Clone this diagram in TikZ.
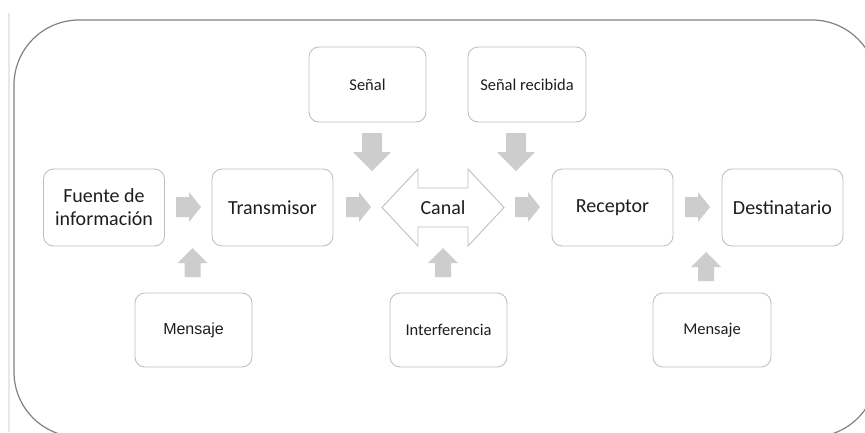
\documentclass[tikz,border=0pt]{standalone}
\usepackage{fontspec}
\setmainfont{Carlito}
\newfontfamily\arialfont{Liberation Sans}
\definecolor{arrowgray}{RGB}{205,205,205}
\definecolor{boxline}{RGB}{192,192,192}
\definecolor{outerline}{RGB}{130,130,130}
\definecolor{txt}{RGB}{30,30,30}
\tikzset{
  box/.style={draw=boxline, line width=0.9pt, rounded corners=10pt, fill=white,
    minimum width=121pt, minimum height=77pt, inner sep=0pt, text=txt,
    font=\fontsize{20}{23}\selectfont, align=center},
  smallbox/.style={box, minimum width=117pt, minimum height=74pt,
    font=\fontsize{16.5}{19}\selectfont},
  rarrow/.pic={\fill[arrowgray] (0,-10) -- (13,-10) -- (13,-15) -- (25,0) -- (13,15) -- (13,10) -- (0,10) -- cycle;},
  darrow/.pic={\fill[arrowgray] (-10,0) -- (10,0) -- (10,19) -- (19,19) -- (0,38) -- (-19,19) -- (-10,19) -- cycle;},
  uarrow/.pic={\fill[arrowgray] (-8,29) -- (8,29) -- (8,15) -- (15,15) -- (0,0) -- (-15,15) -- (-8,15) -- cycle;}
}
\begin{document}
\begin{tikzpicture}[x=1pt,y=-1pt]
\useasboundingbox (0,0) rectangle (865,432);
\clip (0,0) rectangle (865,432);
\fill[white] (0,0) rectangle (865,432);
% page edge
\draw[gray!18, line width=1.5pt] (9,13) -- (9,432);
% outer frame
\draw[outerline, line width=1.2pt, rounded corners=65pt] (14,20) rectangle (877,437);
% main row
\node[box] (fuente) at (104,207.5) {Fuente de\\información};
\node[box] (trans) at (272.5,207.5) {Transmisor};
\node[box] (recep) at (612.5,207.5) {Receptor};
\node[box] (dest) at (782.5,207.5) {Destinatario};
% canal double arrow
\coordinate (canalc) at (443,207.5);
\draw[boxline, line width=0.9pt, fill=white] (382,207.5) -- (418,169) -- (418,188) -- (468,188) -- (468,169) -- (504,207.5) -- (468,246) -- (468,227) -- (418,227) -- (418,246) -- cycle;
\node[text=txt, font=\fontsize{20}{23}\selectfont] (canal) at (canalc) {Canal};
% top boxes
\node[smallbox, minimum width=117pt, minimum height=75pt] (senal) at (367.5,84.5) {Señal};
\node[smallbox, minimum width=118pt, minimum height=75pt] (senalr) at (527,84.5) {Señal recibida};
% bottom boxes
\node[smallbox, font=\arialfont\fontsize{16}{19}\selectfont] (msg1) at (193.5,330) {Mensaje};
\node[smallbox] (interf) at (448.5,330) {Interferencia};
\node[smallbox, minimum width=118pt] (msg2) at (712,330) {Mensaje};
% block arrows
\pic at (176,207) {rarrow};
\pic at (346,207) {rarrow};
\pic at (515,207) {rarrow};
\pic at (685,207) {rarrow};
\pic at (372,133) {darrow};
\pic at (516,133) {darrow};
\pic at (192.5,248) {uarrow};
\pic at (443,248) {uarrow};
\pic at (706,252) {uarrow};
\end{tikzpicture}
\end{document}
